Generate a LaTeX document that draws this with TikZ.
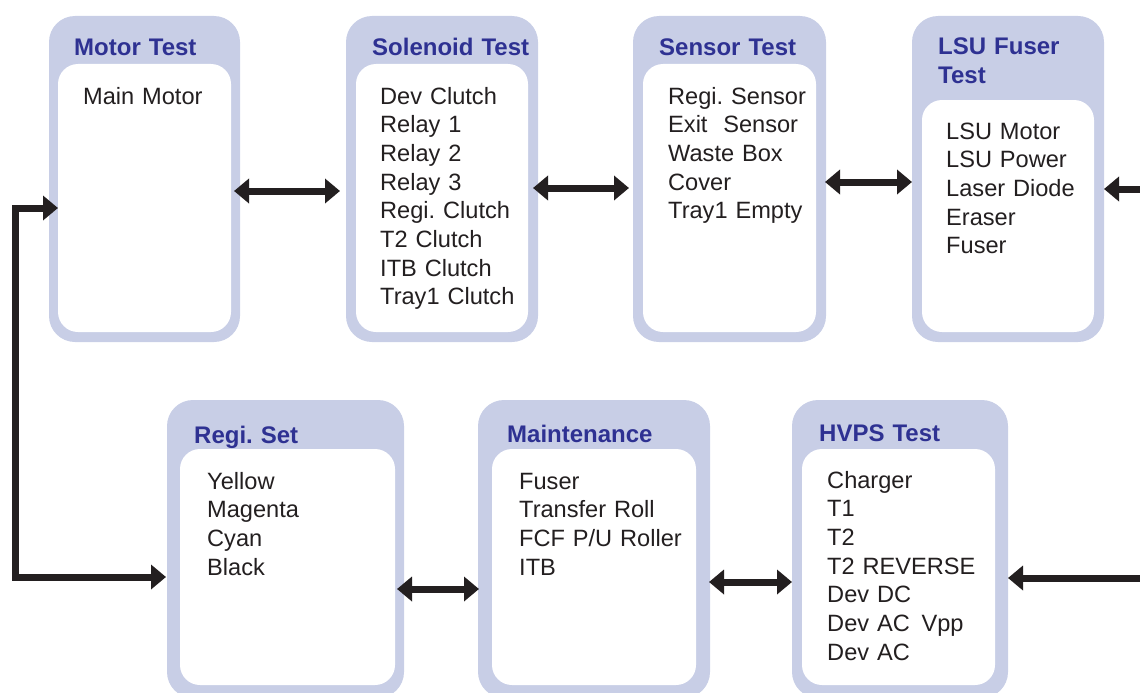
\documentclass[tikz,border=0pt]{standalone}
\usepackage{fontspec}
\setmainfont{Liberation Sans}
\usetikzlibrary{arrows.meta}
\frenchspacing

\definecolor{boxlav}{RGB}{200,206,230}
\definecolor{titleblue}{RGB}{46,49,146}
\definecolor{inkblack}{RGB}{35,31,32}

\tikzset{
	outerbox/.style={rectangle, rounded corners=26pt, fill=boxlav, inner sep=0pt, outer sep=0pt},
	innerbox/.style={rectangle, rounded corners=20pt, fill=white, inner sep=0pt, outer sep=0pt},
	boxtitle/.style={anchor=base west, inner sep=0pt, text=titleblue, font=\fontsize{24}{29}\selectfont\bfseries, text width=160pt, align=left},
	boxitems/.style={anchor=base west, inner sep=0pt, text=inkblack, font=\fontsize{23.6}{28.7}\selectfont, text width=145pt, align=left},
	link/.style={{Triangle[length=15pt,width=24pt]}-{Triangle[length=15pt,width=24pt]}, line width=7pt, draw=inkblack},
	feed/.style={-{Triangle[length=15pt,width=24pt]}, line width=7pt, draw=inkblack}
}

\begin{document}
\begin{tikzpicture}[x=1pt, y=-1pt]
			\clip[use as bounding box] (0,0) rectangle (1140,693);

			% Motor Test box
			\node[outerbox, minimum width=191pt, minimum height=326pt] (motor) at (144.5,179) {};
			\node[innerbox, minimum width=173pt, minimum height=268pt] (motorin) at (144.5,198) {};
			\node[boxtitle] (motortitle) at (74,56) {Motor Test};
			\node[boxitems] (motoritems) at (83,104) {Main Motor};

			% Solenoid Test box
			\node[outerbox, minimum width=192pt, minimum height=326pt] (sol) at (442,179) {};
			\node[innerbox, minimum width=172pt, minimum height=268pt] (solin) at (442,198) {};
			\node[boxtitle] (soltitle) at (372,56) {Solenoid Test};
			\node[boxitems] (solitems) at (380,104) {Dev Clutch\\Relay 1\\Relay 2\\Relay 3\\Regi. Clutch\\T2 Clutch\\ITB Clutch\\Tray1 Clutch};

			% Sensor Test box
			\node[outerbox, minimum width=193pt, minimum height=326pt] (sensor) at (729.5,179) {};
			\node[innerbox, minimum width=173pt, minimum height=268pt] (sensorin) at (729.5,198) {};
			\node[boxtitle] (sensortitle) at (659,56) {Sensor Test};
			\node[boxitems] (sensoritems) at (668,104) {Regi. Sensor\\Exit~ Sensor\\Waste Box\\Cover\\Tray1 Empty};

			% LSU Fuser Test box
			\node[outerbox, minimum width=192pt, minimum height=326pt] (lsu) at (1008,179) {};
			\node[innerbox, minimum width=172pt, minimum height=232pt] (lsuin) at (1008,216) {};
			\node[boxtitle] (lsutitle) at (938,55) {LSU Fuser\\Test};
			\node[boxitems] (lsuitems) at (946,139) {LSU Motor\\LSU Power\\Laser Diode\\Eraser\\Fuser};

			% Regi. Set box
			\node[outerbox, minimum width=237pt, minimum height=298pt] (regi) at (285.5,549) {};
			\node[innerbox, minimum width=215pt, minimum height=236pt] (regiin) at (287.5,567) {};
			\node[boxtitle] (regititle) at (194,443) {Regi. Set};
			\node[boxitems] (regiitems) at (207,489) {Yellow\\Magenta\\Cyan\\Black};

			% Maintenance box
			\node[outerbox, minimum width=232pt, minimum height=298pt] (maint) at (594,549) {};
			\node[innerbox, minimum width=204pt, minimum height=236pt] (maintin) at (594,567) {};
			\node[boxtitle] (mainttitle) at (507,442) {Maintenance};
			\node[boxitems, text width=170pt] (maintitems) at (519,489) {Fuser\\Transfer Roll\\FCF P/U Roller\\ITB};

			% HVPS Test box
			\node[outerbox, minimum width=216pt, minimum height=298pt] (hvps) at (900,549) {};
			\node[innerbox, minimum width=193pt, minimum height=236pt] (hvpsin) at (898.5,567) {};
			\node[boxtitle] (hvpstitle) at (819,441) {HVPS Test};
			\node[boxitems, text width=160pt] (hvpsitems) at (827,488) {Charger\\T1\\T2\\T2 REVERSE\\Dev DC\\Dev AC\, Vpp\\Dev AC};

			% free ends of the connectors
			\coordinate (loopcorner) at (15,577);
			\coordinate (lsufeed) at (1140,189);
			\coordinate (hvpsfeed) at (1140,578);

			% Arrows between the tests
			\draw[link] ([shift={(-6,12)}]motor.east) -- ([shift={(-6,12)}]sol.west);
			\draw[link] ([shift={(-5,9)}]sol.east) -- ([shift={(-4,9)}]sensor.west);
			\draw[link] ([shift={(-1,3)}]sensor.east) -- ([shift={(0,3)}]lsu.west);
			\draw[feed] (lsufeed) -- ([shift={(0,10)}]lsu.east);
			\draw[link] ([shift={(9,29)}]motor.west) -| (loopcorner) -- ([shift={(-1,28)}]regi.west);
			\draw[link] ([shift={(-7,40)}]regi.east) -- ([shift={(1,40)}]maint.west);
			\draw[link] ([shift={(-1,33)}]maint.east) -- ([shift={(0,33)}]hvps.west);
			\draw[feed] (hvpsfeed) -- ([shift={(0,29)}]hvps.east);
\end{tikzpicture}
\end{document}
